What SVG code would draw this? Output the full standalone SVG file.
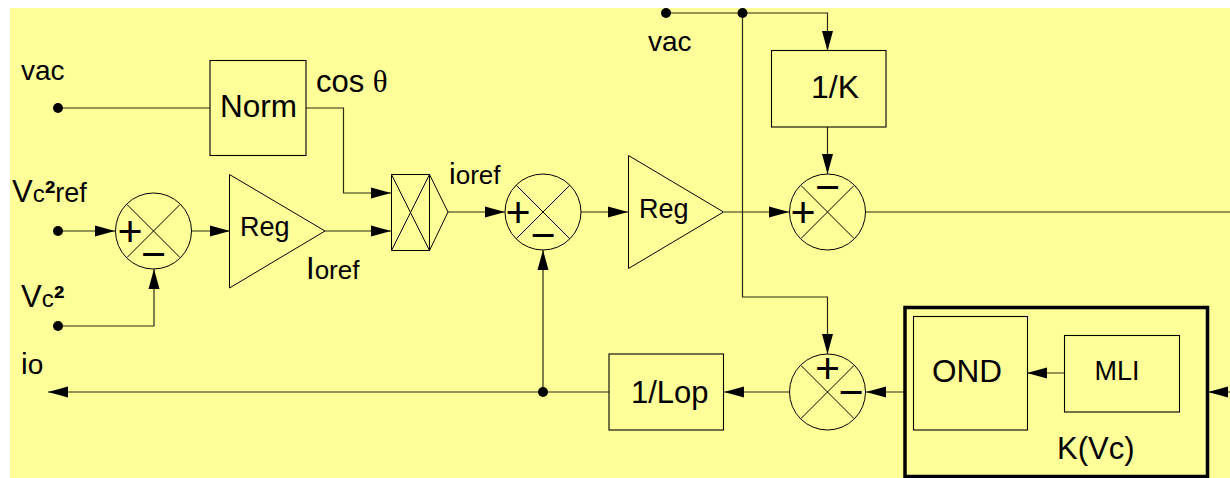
<svg xmlns="http://www.w3.org/2000/svg" width="1230" height="478" viewBox="0 0 1230 478">
<style>
text{font-family:"Liberation Sans",Arial,sans-serif;fill:#000}
.b{fill:none;stroke:#000;stroke-width:1.1}
.c{fill:none;stroke:#2a2a10;stroke-width:1.2}
.t{stroke:#000;stroke-width:1;fill:none}
.d{fill:#000}
.pm{font-size:43px;text-anchor:middle}
.a{marker-end:url(#ah)}
.s{font-weight:bold;font-size:32px}
</style>
<defs>
<marker id="ah" markerUnits="userSpaceOnUse" markerWidth="20" markerHeight="12" refX="20" refY="6" orient="auto"><path d="M0 0.5L20 6L0 11.500Z" fill="#000"/></marker>
<g id="xc"><circle r="38" class="t"/><path class="t" d="M-26.500-26.500L26.500 26.500M-26.500 26.500L26.500-26.500"/></g>
</defs>
<rect x="10" y="8" width="1220" height="470" fill="#ffff99"/>
<g id="connectors">
<path class="c" d="M58 108H210"/>
<path class="c a" d="M306 108H343.500V193H391"/>
<path class="c a" d="M58 231H115"/>
<path class="c a" d="M192 231H230"/>
<path class="c a" d="M325 231H391"/>
<path class="c a" d="M58 326H154V269"/>
<path class="c a" d="M448 212H505"/>
<path class="c a" d="M581 212H628"/>
<path class="c a" d="M724 212H789"/>
<path class="c" d="M866 212H1230"/>
<path class="c a" d="M666 13H827.500V51"/>
<path class="c a" d="M827.500 127V174"/>
<path class="c a" d="M742.500 13V297H827.500V354"/>
<path class="c a" d="M1230 392H1208"/>
<path class="c a" d="M904 392H866"/>
<path class="c a" d="M789 392H724"/>
<path class="c a" d="M609 392H48"/>
<path class="c a" d="M543 392V250"/>
<path class="c a" d="M1065 373H1027"/>
<circle class="d" cx="58" cy="108" r="5"/>
<circle class="d" cx="58" cy="231" r="5"/>
<circle class="d" cx="58" cy="326" r="5"/>
<circle class="d" cx="666" cy="13" r="5"/>
<circle class="d" cx="742.500" cy="13" r="5"/>
<circle class="d" cx="543" cy="392" r="5"/>
</g>
<g id="norm"><rect class="b" x="210" y="60.500" width="96" height="95"/><text x="220" y="116.500" font-size="31.500">Norm</text></g>
<g id="sum1"><use href="#xc" x="153.500" y="231"/><text class="pm" x="130" y="245.500">+</text><text class="pm" x="153.500" y="269">−</text></g>
<g id="reg1"><path class="t" d="M229.500 174.500L325 231L229.500 288Z"/><text x="240" y="236" font-size="27">Reg</text></g>
<g id="mult"><path class="t" d="M391.500 174.500H429.500V250.500H391.500ZM391.500 174.500L429.500 250.500M391.500 250.500L429.500 174.500M429.500 174.500L448 212L429.500 250.500"/></g>
<g id="sum2"><use href="#xc" x="543" y="212"/><text class="pm" x="518" y="226.500">+</text><text class="pm" x="543" y="250">−</text></g>
<g id="reg2"><path class="t" d="M628.500 155.500L723.500 212L628.500 268.500Z"/><text x="639" y="218" font-size="27">Reg</text></g>
<g id="sum3"><use href="#xc" x="827.500" y="212"/><text class="pm" x="803" y="226.500">+</text><text class="pm" x="827.500" y="202">−</text></g>
<g id="k1"><rect class="b" x="771.500" y="50.500" width="114.500" height="76.500"/><text x="811" y="98" font-size="32">1/K</text></g>
<g id="sum4"><use href="#xc" x="827.500" y="392"/><text class="pm" x="827.500" y="382.500">+</text><text class="pm" x="851" y="406.500">−</text></g>
<g id="lop"><rect class="b" x="609" y="354" width="114.500" height="76"/><text x="631" y="403" font-size="31">1/Lop</text></g>
<g id="kvc"><rect x="905" y="307.500" width="302.500" height="169" fill="none" stroke="#000" stroke-width="3.500"/><text x="1057" y="459" font-size="31">K(Vc)</text></g>
<g id="ond"><rect class="b" x="913.500" y="316.500" width="114" height="113.500"/><text x="932" y="381.500" font-size="31.500">OND</text></g>
<g id="mli"><rect class="b" x="1064.500" y="335.500" width="115" height="76.500"/><text x="1094.500" y="380" font-size="27">MLI</text></g>
<g id="labels">
<text x="21" y="80" font-size="28">vac</text>
<text x="316" y="92" font-size="31">cos <tspan font-family="Liberation Serif,serif">θ</tspan></text>
<text x="12" y="202" font-size="31">V<tspan font-size="24">c</tspan><tspan class="s" dy="2">²</tspan><tspan font-size="27" dy="-2">ref</tspan></text>
<text x="21" y="307" font-size="31">V<tspan font-size="24">c</tspan><tspan class="s" dy="2">²</tspan></text>
<text x="21" y="374" font-size="30">i<tspan font-size="28">o</tspan></text>
<text x="306" y="279" font-size="31">I<tspan font-size="26">oref</tspan></text>
<text x="449" y="183.500" font-size="30">i<tspan font-size="26">oref</tspan></text>
<text x="648" y="51" font-size="28">vac</text>
</g>
</svg>
